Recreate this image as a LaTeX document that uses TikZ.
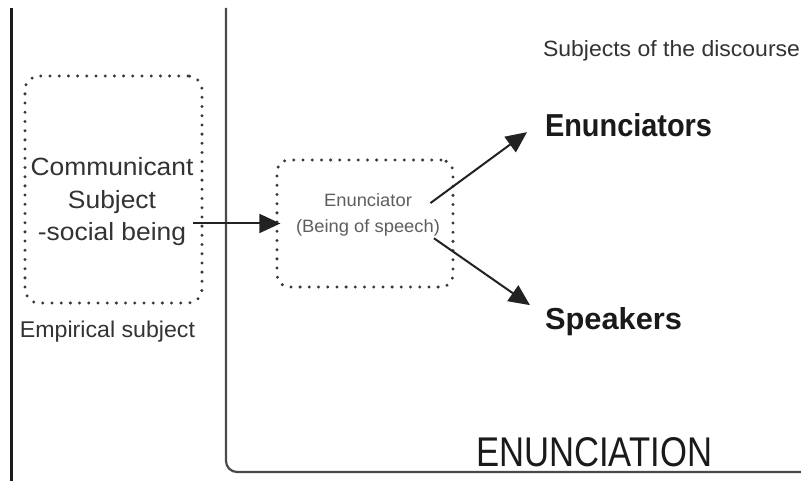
\documentclass[tikz,border=0pt]{standalone}
\usepackage{fontspec}
\setmainfont{Liberation Sans}
\usepackage{graphicx}
\usetikzlibrary{arrows.meta}
\definecolor{ink}{HTML}{1A1A1A}
\definecolor{framec}{HTML}{4A4A4A}
\definecolor{dotc}{HTML}{383838}
\definecolor{arrc}{HTML}{222222}
\definecolor{textc}{HTML}{333333}
\definecolor{lightc}{HTML}{5E5E5E}
\begin{document}
\begin{tikzpicture}[x=1pt,y=-1pt,
  txt/.style={inner sep=0pt, outer sep=0pt},
  dotbox/.style={draw=dotc, line width=3.3pt, dash pattern=on 0pt off 9.2pt,
    line cap=round, rounded corners=14pt, inner sep=0pt},
  arr/.style={draw=arrc, line width=2pt, -{Triangle[length=21pt,width=19pt]}},
  leftline/.style={draw=ink, line width=3pt},
  framel/.style={draw=framec, line width=2.2pt, rounded corners=11pt}]
\fill[white] (0,0) rectangle (801,481);
\useasboundingbox (0,0) rectangle (801,481);
% frame lines
\draw[leftline] (11,8) -- (11,481);
\draw[framel] (226,8) -- (226,472) -- (805,472);
% dotted boxes
\node[dotbox, minimum width=177pt, minimum height=227pt] (cbox) at (113.5,189.5) {};
\node[dotbox, minimum width=176pt, minimum height=127pt, rounded corners=12pt] (enbox) at (365,223.5) {};
% texts
\node[txt, anchor=base, text=textc] (comm) at (112,176)
  {\scalebox{1.1}[1.04]{\fontsize{24}{31}\selectfont\begin{tabular}[t]{@{}c@{}}Communicant\\Subject\\-social being\end{tabular}}};
\node[txt, anchor=base, text=textc] (emp) at (107.5,337) {\resizebox{175pt}{16.5pt}{Empirical subject}};
\node[txt, anchor=base, text=lightc] (ent) at (368,207)
  {\scalebox{1.08}[1.05]{\fontsize{17}{24}\selectfont\begin{tabular}[t]{@{}c@{}}Enunciator\\(Being of speech)\end{tabular}}};
\node[txt, anchor=base west, text=textc] (subj) at (543,57) {\resizebox{257pt}{16pt}{Subjects of the discourse}};
\node[txt, anchor=base west, text=ink] (enc) at (545,137) {\resizebox{167pt}{23pt}{\bfseries Enunciators}};
\node[txt, anchor=base west, text=ink] (spk) at (545,329) {\resizebox{137pt}{22pt}{\bfseries Speakers}};
\node[txt, anchor=base west, text=ink] (enun) at (476,466) {\resizebox{236pt}{29pt}{ENUNCIATION}};
% arrows
\draw[arr] (comm.east |- enbox.west) -- ([xshift=5pt]enbox.west);
\draw[arr] ([xshift=-9.5pt,yshift=11.5pt]ent.east) -- ([xshift=-18pt,yshift=-6.5pt]enc.west);
\draw[arr] ([xshift=-6pt,yshift=1.5pt]ent.south east) -- ([xshift=-15pt,yshift=16pt]spk.west);
\end{tikzpicture}
\end{document}
